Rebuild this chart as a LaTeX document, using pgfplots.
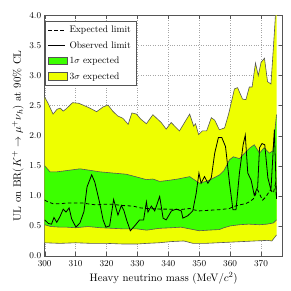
\documentclass[border=0pt]{standalone}
\usepackage{pgfplots}
\usepackage{pgfplotstable}
\pgfplotsset{compat=1.18}
\usepgfplotslibrary{fillbetween}
\definecolor{yel}{RGB}{238,255,0}
\definecolor{grn}{RGB}{60,255,0}
\definecolor{edge}{RGB}{85,85,85}
\pgfplotstableread{
x y
300 2.64
301 2.55
302.7 2.36
304 2.44
305 2.46
306 2.41
307 2.45
309 2.55
311 2.54
312.4 2.51
314.6 2.46
316.8 2.40
318.9 2.48
320.5 2.51
322 2.41
323.6 2.33
325.3 2.29
327 2.19
328.2 2.38
329.7 2.36
331 2.28
332.9 2.20
335 2.35
337.7 2.22
339.3 2.11
340.9 2.22
343.6 2.08
346.9 2.36
348.2 2.16
348.8 2.20
349.8 2.02
351 2.08
352.4 2.08
353.9 2.30
355 2.26
356.5 2.10
358.2 2.13
359.5 2.36
361.4 2.78
362.4 2.80
364 2.61
365.1 2.60
366.2 2.81
367.1 2.81
368.2 3.21
369.1 3.00
370 3.22
371.1 3.29
372.1 2.90
373.2 2.86
374.3 3.71
375 4.30
}\uthree
\pgfplotstableread{
x y
300 0.22
305 0.21
310 0.22
315 0.21
320 0.21
325 0.20
330 0.20
333 0.21
337 0.22
341 0.24
345 0.25
348 0.21
352 0.21
356 0.22
360 0.23
364 0.24
368 0.25
372 0.26
373.5 0.25
375 0.35
}\lthree
\pgfplotstableread{
x y
300 1.50
301.7 1.40
304 1.40
307 1.42
311.4 1.45
314 1.43
317.8 1.40
322 1.38
326.4 1.36
330.8 1.30
332.9 1.27
335 1.28
337.2 1.24
340.4 1.26
343 1.28
346.9 1.32
350.1 1.21
353.3 1.26
356.6 1.35
358 1.42
359.8 1.60
361 1.65
363 1.62
364.5 1.70
366.2 1.79
367.8 1.85
369.5 1.71
371 1.80
372.7 1.71
373.8 1.75
375 2.35
}\uone
\pgfplotstableread{
x y
300 0.52
302 0.49
305 0.48
307 0.48
310 0.47
314 0.49
318 0.47
322 0.46
326 0.45
330 0.45
333 0.43
337 0.46
341 0.47
344 0.48
347 0.45
350 0.42
353 0.43
356.5 0.44
358 0.47
360 0.50
363 0.52
366 0.53
369.5 0.52
372 0.53
374 0.55
375 0.60
}\lone
\pgfplotstableread{
x y
300 0.93
301 0.90
302.7 0.87
305 0.87
307 0.88
310 0.88
312.4 0.88
315 0.86
316.7 0.85
319 0.86
322 0.86
325 0.84
328.6 0.83
331 0.80
333 0.79
337.2 0.78
340 0.78
343.6 0.77
346.9 0.79
348 0.77
350 0.75
353 0.76
356.5 0.77
359.8 0.79
361 0.82
363 0.85
365 0.87
366.2 0.90
367.5 0.95
368.9 1.10
370 0.98
370.5 0.93
371.5 0.98
373 1.10
374 1.05
374.7 1.21
375 0.95
}\expd
\pgfplotstableread{
x y
300 0.60
301.2 0.54
302.2 0.53
303 0.64
303.9 0.56
304.9 0.65
306 0.78
306.9 0.73
307.9 0.80
308.7 0.62
310.1 0.48
311.4 0.55
312.7 0.74
313.7 1.15
315.2 1.35
316.2 1.23
317.8 0.88
318.9 0.60
319.8 0.48
321 0.50
322.3 0.94
323.7 0.68
324.8 0.84
325.6 0.76
326.5 0.60
327.7 0.42
329.1 0.50
330.7 0.60
332 0.60
332.9 0.90
333.4 0.73
334.5 0.83
335.6 0.75
337.2 0.99
338.3 0.63
339.3 0.60
341 0.75
342.6 0.78
344.2 0.75
344.7 0.63
346.3 0.67
347.9 0.75
349 1.04
349.9 1.38
350.6 1.21
351.7 1.32
352.8 1.21
353.9 1.30
355 1.71
356.2 1.97
357.3 1.97
358.5 1.82
359.8 1.21
360.9 0.77
361.9 0.77
363 1.38
364.2 1.85
364.9 2.01
365.7 1.38
366.8 1.26
367.8 1.01
368.9 1.15
369.5 1.80
370.3 1.87
371.2 1.85
372.2 1.30
373.2 1.10
374.3 2.10
375 0.95
}\obs
\begin{document}
\begin{tikzpicture}
\begin{axis}[
  scale only axis, width=238pt, height=240.5pt,
  xmin=300, xmax=377, ymin=0, ymax=4,
  xtick={300,310,...,370}, ytick={0,0.5,...,4},
  yticklabel style={/pgf/number format/.cd, fixed, fixed zerofill, precision=1},
  tick align=inside, xtick pos=both, ytick pos=both,
  major tick length=4pt,
  tick style={edge, thin},
  grid=major, grid style={dotted, gray!70},
  axis line style={edge, thick},
  tick label style={font=\fontsize{9.4}{11}\selectfont},
  xticklabel style={yshift=-1pt},
  label style={font=\fontsize{10.8}{13}\selectfont},
  xlabel={Heavy neutrino mass (MeV/$c^2$)},
  ylabel={UL on BR($K^+\to\mu^+\nu_h$) at 90\% CL},
  xlabel style={yshift=1pt},
  ylabel style={yshift=-1pt},
  legend style={at={(0.0,0.977)}, anchor=north west, draw=edge,
    font=\fontsize{9.5}{11}\selectfont,
    cells={anchor=west}, row sep=3.3pt, inner xsep=3pt, inner ysep=3pt},
  legend cell align=left,
]
\addlegendimage{black, thick, dash pattern=on 3.5pt off 2.5pt}
\addlegendentry{Expected limit}
\addlegendimage{black, thick}
\addlegendentry{Observed limit}
\addlegendimage{legend image code/.code={\draw[fill=grn, draw=edge] (0pt,-3.5pt) rectangle (19pt,4pt);}}
\addlegendentry{1$\sigma$ expected}
\addlegendimage{legend image code/.code={\draw[fill=yel, draw=edge] (0pt,-3.5pt) rectangle (19pt,4pt);}}
\addlegendentry{3$\sigma$ expected}

\addplot[draw=none, name path=u3, forget plot] table {\uthree};
\addplot[draw=none, name path=l3, forget plot] table {\lthree};
\addplot[draw=none, name path=u1, forget plot] table {\uone};
\addplot[draw=none, name path=l1, forget plot] table {\lone};
\addplot[yel, forget plot] fill between[of=u3 and l3];
\addplot[grn, forget plot] fill between[of=u1 and l1];
\addplot[edge, semithick, forget plot] table {\uthree};
\addplot[edge, semithick, forget plot] table {\lthree};
\addplot[edge, semithick, forget plot] table {\uone};
\addplot[edge, semithick, forget plot] table {\lone};
\addplot[black, thick, dash pattern=on 3.5pt off 2.5pt, forget plot] table {\expd};
\addplot[black, thick, forget plot] table {\obs};
\node[anchor=south west, font=\fontsize{9.4}{11}\selectfont, inner sep=1pt] at (rel axis cs:0,1) {$\times10^{-5}$};
\end{axis}
\pgfresetboundingbox
\path ([shift={(-44.7pt,-35pt)}]current axis.south west) rectangle ([shift={(8.3pt,15.5pt)}]current axis.north east);
\end{tikzpicture}
\end{document}
